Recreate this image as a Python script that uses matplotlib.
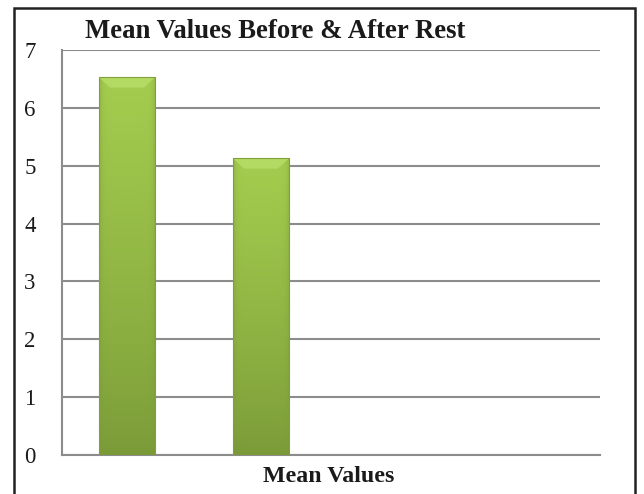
import numpy as np
import matplotlib.pyplot as plt
from matplotlib.patches import Rectangle, Polygon
from matplotlib.colors import LinearSegmentedColormap

# data
series = ['Before Rest', 'After Rest']
values = [6.53, 5.13]
yticks = [0, 1, 2, 3, 4, 5, 6, 7]
title = 'Mean Values Before & After Rest'
xlabel = 'Mean Values'

plt.rcParams['font.family'] = ['Liberation Serif', 'DejaVu Serif']

fig = plt.figure(figsize=(6.44, 4.94), dpi=100)
ax = fig.add_axes([62/644, 1-455/494, (600-62)/644, (455-50)/494])

xpos = np.arange(len(series))
width = 0.42
bars = ax.bar(xpos, values, width=width, color='#95bd48', zorder=3)

# vertical + horizontal shading to mimic the bevelled excel bars
green = LinearSegmentedColormap.from_list('g', ['#7a9a38', '#a4cd4e'])
yy = np.linspace(0, 1, 200)[:, None] ** 0.8
xx = np.linspace(-1, 1, 60)[None, :]
shade = yy * (1 - 0.45 * np.abs(xx)**10)
for b in bars:
    x0, y0 = b.get_x(), b.get_y()
    w, h = b.get_width(), b.get_height()
    im = ax.imshow(shade, cmap=green, extent=[x0, x0+w, y0, y0+h],
                   origin='lower', aspect='auto', zorder=4, vmin=0, vmax=1)
    im.set_clip_path(b)
    # top bevel
    bev = 0.18
    ax.add_patch(Polygon([[x0, y0+h], [x0+w, y0+h], [x0+w-w*0.2, y0+h-bev],
                          [x0+w*0.2, y0+h-bev]], closed=True,
                         facecolor='#b3da63', edgecolor='none', zorder=5))
    ax.add_patch(Rectangle((x0, y0), w, h, fill=False, edgecolor='#80a03c',
                           lw=0.8, zorder=6))

ax.set_xlim(-0.485, 3.53)
ax.set_ylim(0, 7)
ax.set_yticks(yticks)
ax.set_xticks([])
ax.yaxis.grid(True, color='#8c8c8c', lw=1.5, zorder=0)
for s in ['top', 'right']:
    ax.spines[s].set_visible(False)
for s in ['left', 'bottom']:
    ax.spines[s].set_color('#8c8c8c')
    ax.spines[s].set_linewidth(1.5)
ax.tick_params(axis='y', length=0, pad=19, labelsize=16.5, labelcolor='#1a1a1a')
for lbl in ax.get_yticklabels():
    lbl.set_y(lbl.get_position()[1])

fig.text(85/644, 1-38/494, title, fontsize=19.3, fontweight='bold',
         va='baseline', ha='left', color='#1a1a1a')
fig.text(329/644, 1-482/494, xlabel, fontsize=17.2, fontweight='bold',
         va='baseline', ha='center', color='#1a1a1a')

fig.patches.append(Rectangle((14/644, -0.05), (635-14)/644, 1.05-8/494,
                             transform=fig.transFigure, fill=False,
                             edgecolor='#222222', lw=1.8))

fig.savefig('out.png', dpi=100)
